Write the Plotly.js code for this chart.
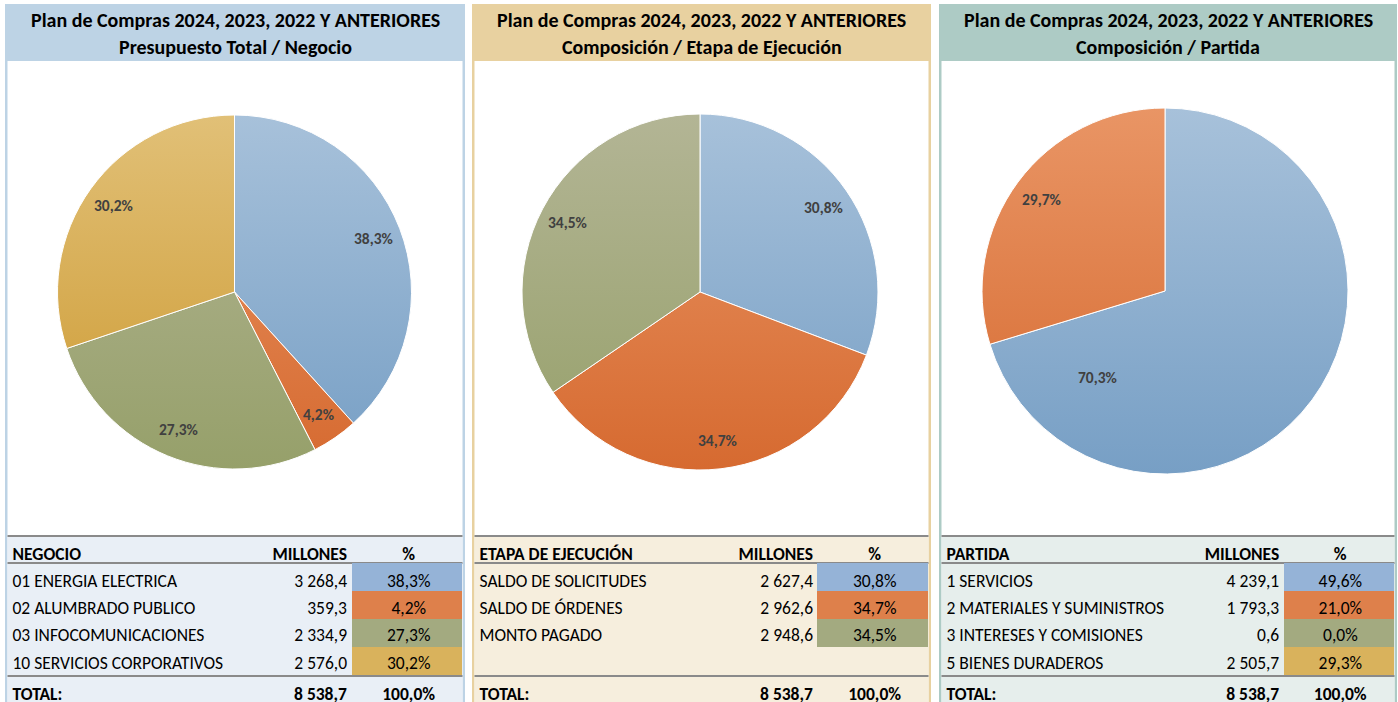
<!DOCTYPE html>
<html><head><meta charset="utf-8">
<script src="https://cdn.plot.ly/plotly-3.0.1.min.js"></script>
<style>html,body{margin:0;padding:0;background:#fff;overflow:hidden}#chart{width:1398px;height:702px}</style>
</head><body><div id="chart"></div>
<script>
// ---------- DATA ----------
const titleLine1 = 'Plan de Compras 2024, 2023, 2022 Y ANTERIORES';
const subtitles = ['Presupuesto Total / Negocio', 'Composición / Etapa de Ejecución', 'Composición / Partida'];

const negocioLabels = ['01 ENERGIA ELECTRICA', '02 ALUMBRADO PUBLICO', '03 INFOCOMUNICACIONES', '10 SERVICIOS CORPORATIVOS'];
const negocioMillones = [3268.4, 359.3, 2334.9, 2576.0];
const negocioPct = [38.3, 4.2, 27.3, 30.2];

const etapaLabels = ['SALDO DE SOLICITUDES', 'SALDO DE ÓRDENES', 'MONTO PAGADO'];
const etapaMillones = [2627.4, 2962.6, 2948.6];
const etapaPct = [30.8, 34.7, 34.5];

const partidaLabels = ['1 SERVICIOS', '2 MATERIALES Y SUMINISTROS', '3 INTERESES Y COMISIONES', '5 BIENES DURADEROS'];
const partidaMillones = [4239.1, 1793.3, 0.6, 2505.7];
const partidaPct = [49.6, 21.0, 0.0, 29.3];

// the third pie as drawn in the picture
const partidaPieLabels = ['1 SERVICIOS', '2 MATERIALES Y SUMINISTROS'];
const partidaPiePct = [70.3, 29.7];

const totalMillones = [8538.7, 8538.7, 8538.7];
const totalPct = [100.0, 100.0, 100.0];
const tableHeaders = [['NEGOCIO', 'MILLONES', '%'], ['ETAPA DE EJECUCIÓN', 'MILLONES', '%'], ['PARTIDA', 'MILLONES', '%']];
const totalLabel = 'TOTAL:';

// ---------- STYLE ----------
const W = 1398, H = 702;
const FONT = 'Carlito, Calibri, Lato, sans-serif';
const sliceColors = ['#8FB1D4', '#E27B41', '#A5AC7F', '#DBB158'];
const sliceGradients = [['#A7C1DA', '#779FC5'], ['#E99565', '#D66A30'], ['#B3B595', '#96A06A'], ['#E1C077', '#CD9A32']];
const cellColors = ['#95B3D7', '#DE804B', '#A3AA80', '#D9B25C'];
const TABLE_FS = 17.5;
const HEAD_TABLE_TOP = 535;                  // column-title row
const BODY_TABLE_TOP = 531, BODY_SPACER_H = 34.8, BODY_ROW_H = 27.2;
const panels = [
  {x0: 5, x1: 465, head: '#BDD3E5', bg: '#E9EFF6', pctX: 352, millRight: 347, pie: {cx: 234.5, cy: 292, r: 177}},
  {x0: 472, x1: 931, head: '#E8D1A0', bg: '#F6EEDD', pctX: 817, millRight: 813, pie: {cx: 700, cy: 292, r: 178}},
  {x0: 939, x1: 1397, head: '#ADCBC5', bg: '#E6EEEC', pctX: 1284, millRight: 1280, pie: {cx: 1165, cy: 291, r: 183}}
];
// label placement (fraction of radius along the slice bisector); one override for the big slice of pie 3
const labelRadius = 0.84;
const labelOverrides = {2: {0: {angleDeg: 218, k: 0.6}}};

const px = x => x / W;
const py = y => 1 - y / H;
const CLEAR = 'rgba(0,0,0,0)';

function fmtNum(v) {
  const s = v.toFixed(1).split('.');
  const int = s[0].replace(/\B(?=(\d{3})+(?!\d))/g, ' ');
  return int + ',' + s[1];
}
function fmtPct(v) { return v.toFixed(1).replace('.', ',') + '%'; }

const pieSets = [
  {labels: negocioLabels, values: negocioMillones},
  {labels: etapaLabels, values: etapaMillones},
  {labels: partidaPieLabels, values: partidaPiePct}
];
const tableSets = [
  {labels: negocioLabels, mill: negocioMillones, pct: negocioPct},
  {labels: etapaLabels, mill: etapaMillones, pct: etapaPct},
  {labels: partidaLabels, mill: partidaMillones, pct: partidaPct}
];

const traces = [];
const shapes = [];
const annotations = [];

panels.forEach((p, i) => {
  // panel frame
  shapes.push({type: 'rect', xref: 'paper', yref: 'paper', x0: px(p.x0), x1: px(p.x1), y0: py(61), y1: py(4), fillcolor: p.head, line: {width: 0}, layer: 'below'});
  shapes.push({type: 'rect', xref: 'paper', yref: 'paper', x0: px(p.x0), x1: px(p.x0 + 2.5), y0: py(702), y1: py(61), fillcolor: p.head, line: {width: 0}, layer: 'below'});
  shapes.push({type: 'rect', xref: 'paper', yref: 'paper', x0: px(p.x1 - 2.5), x1: px(p.x1), y0: py(702), y1: py(61), fillcolor: p.head, line: {width: 0}, layer: 'below'});
  shapes.push({type: 'rect', xref: 'paper', yref: 'paper', x0: px(p.x0 + 2.5), x1: px(p.x1 - 2.5), y0: py(702), y1: py(535), fillcolor: p.bg, line: {width: 0}, layer: 'below'});
  [536, 563, 676].forEach(y => {
    shapes.push({type: 'line', xref: 'paper', yref: 'paper', x0: px(p.x0 + 2.5), x1: px(p.x1 - 2.5), y0: py(y), y1: py(y), line: {color: '#8A8A8A', width: 2}, layer: 'below'});
  });
  const cx = (p.x0 + p.x1) / 2;
  annotations.push({xref: 'paper', yref: 'paper', x: px(cx), y: py(20), xanchor: 'center', yanchor: 'middle', showarrow: false, text: '<b>' + titleLine1 + '</b>', font: {family: FONT, size: 20, color: '#000'}});
  annotations.push({xref: 'paper', yref: 'paper', x: px(cx), y: py(47), xanchor: 'center', yanchor: 'middle', showarrow: false, text: '<b>' + subtitles[i] + '</b>', font: {family: FONT, size: 20, color: '#000'}});

  // pie
  const ps = pieSets[i];
  traces.push({
    type: 'pie', labels: ps.labels, values: ps.values, sort: false, direction: 'clockwise', rotation: 0,
    domain: {x: [px(p.pie.cx - p.pie.r), px(p.pie.cx + p.pie.r)], y: [py(p.pie.cy + p.pie.r), py(p.pie.cy - p.pie.r)]},
    marker: {colors: sliceColors, line: {color: '#ffffff', width: 1}},
    textinfo: 'none', hoverinfo: 'none', showlegend: false
  });
  // pie labels at the slice bisectors
  const sum = ps.values.reduce((a, b) => a + b, 0);
  let cum = 0;
  ps.values.forEach((v, j) => {
    let ang = (cum + v / 2) / sum * 2 * Math.PI, k = labelRadius;
    const ov = labelOverrides[i] && labelOverrides[i][j];
    if (ov) { ang = ov.angleDeg * Math.PI / 180; k = ov.k; }
    cum += v;
    const lx = p.pie.cx + k * p.pie.r * Math.sin(ang);
    const ly = p.pie.cy - k * p.pie.r * Math.cos(ang);
    annotations.push({xref: 'paper', yref: 'paper', x: px(lx), y: py(ly), xanchor: 'center', yanchor: 'middle', showarrow: false,
      text: '<b>' + fmtPct(v / sum * 100) + '</b>', font: {family: FONT, size: 15.5, color: '#404040'}});
  });

  // table: coloured % cells
  const ts = tableSets[i];
  const nRows = 4;
  const f3 = [], blank = [];
  for (let k = 0; k < nRows; k++) { f3.push(k < ts.labels.length ? cellColors[k] : CLEAR); blank.push(''); }
  traces.push({
    type: 'table',
    domain: {x: [px(p.pctX), px(p.x1 - 2.5)], y: [py(702 - 1), py(536)]},
    header: {values: [''], height: 27, fill: {color: CLEAR}, line: {width: 0, color: CLEAR}},
    cells: {values: [blank], height: 28, fill: {color: [f3]}, line: {width: 0, color: CLEAR}}
  });

  const t0 = p.x0 - 0.5, t1 = p.x1 - 2.5;
  const col2End = p.millRight + 8;
  const colW = [240, col2End - t0 - 240, t1 - col2End];

  // table: column titles
  traces.push({
    type: 'table',
    domain: {x: [px(t0), px(t1)], y: [py(600), py(HEAD_TABLE_TOP)]},
    columnwidth: colW,
    header: {
      values: tableHeaders[i].map(h => '<b>' + h + '</b>'),
      align: ['left', 'right', 'center'], height: 27,
      fill: {color: CLEAR}, line: {width: 0, color: CLEAR},
      font: {family: FONT, size: TABLE_FS, color: '#000'}
    },
    cells: {values: [[''], [''], ['']], height: 20, fill: {color: CLEAR}, line: {width: 0, color: CLEAR}, font: {family: FONT, size: 10}}
  });

  // table: body rows + total
  const c1 = [], c2 = [], c3 = [];
  for (let k = 0; k < nRows; k++) {
    if (k < ts.labels.length) { c1.push(ts.labels[k]); c2.push(fmtNum(ts.mill[k])); c3.push(fmtPct(ts.pct[k])); }
    else { c1.push(''); c2.push(''); c3.push(''); }
  }
  c1.push('<b>' + totalLabel + '</b>'); c2.push('<b>' + fmtNum(totalMillones[i]) + '</b>'); c3.push('<b>' + fmtPct(totalPct[i]) + '</b>');
  traces.push({
    type: 'table',
    domain: {x: [px(t0), px(t1)], y: [0, py(BODY_TABLE_TOP)]},
    columnwidth: colW,
    header: {values: ['', '', ''], height: BODY_SPACER_H, fill: {color: CLEAR}, line: {width: 0, color: CLEAR}, font: {family: FONT, size: 10}},
    cells: {
      values: [c1, c2, c3],
      align: ['left', 'right', 'center'], height: BODY_ROW_H,
      fill: {color: CLEAR}, line: {width: 0, color: CLEAR},
      font: {family: FONT, size: TABLE_FS, color: '#000'}
    }
  });
});

const layout = {
  width: W, height: H, margin: {l: 0, r: 0, t: 0, b: 0},
  paper_bgcolor: '#ffffff', plot_bgcolor: '#ffffff',
  separators: ', ', showlegend: false,
  shapes: shapes, annotations: annotations,
  font: {family: FONT}
};

Plotly.newPlot('chart', traces, layout, {staticPlot: true, displayModeBar: false}).then(gd => {
  // vertical light-to-dark shading of the pie slices
  const svg = gd.querySelector('svg.main-svg');
  const NS = 'http://www.w3.org/2000/svg';
  const defs = document.createElementNS(NS, 'defs');
  svg.insertBefore(defs, svg.firstChild);
  gd.querySelectorAll('.pielayer .trace').forEach((tr, ti) => {
    const paths = Array.from(tr.querySelectorAll('path.surface'));
    let y0 = Infinity, y1 = -Infinity;
    paths.forEach(pa => { const b = pa.getBBox(); y0 = Math.min(y0, b.y); y1 = Math.max(y1, b.y + b.height); });
    paths.forEach((pa, si) => {
      const g = sliceGradients[si % sliceGradients.length];
      const id = 'grad-' + ti + '-' + si;
      const lg = document.createElementNS(NS, 'linearGradient');
      lg.setAttribute('id', id); lg.setAttribute('gradientUnits', 'userSpaceOnUse');
      lg.setAttribute('x1', 0); lg.setAttribute('x2', 0); lg.setAttribute('y1', y0); lg.setAttribute('y2', y1);
      [[0, g[0]], [1, g[1]]].forEach(([o, c]) => {
        const st = document.createElementNS(NS, 'stop');
        st.setAttribute('offset', o); st.setAttribute('stop-color', c); lg.appendChild(st);
      });
      defs.appendChild(lg);
      pa.style.fill = 'url(#' + id + ')';
    });
  });
});
</script>
</body></html>
